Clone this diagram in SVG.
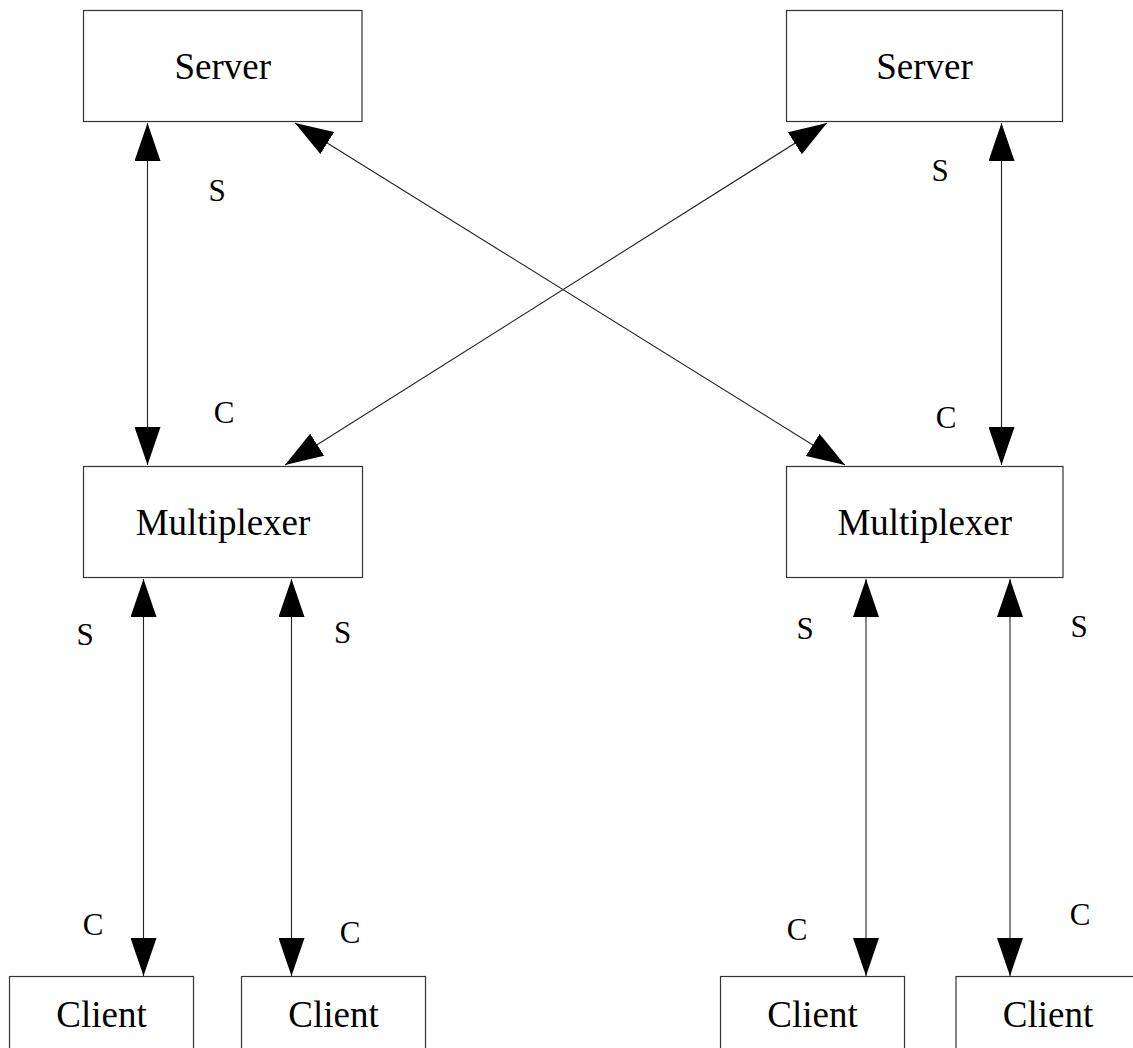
<svg xmlns="http://www.w3.org/2000/svg" width="1133" height="1048" viewBox="0 0 1133 1048">
  <style>
    .box { fill: #ffffff; stroke: #333333; stroke-width: 1.2; }
    .name { font-family: "Liberation Serif", "Times New Roman", serif; font-size: 37px; fill: #000000; text-anchor: middle; }
    .tag { font-family: "Liberation Serif", "Times New Roman", serif; font-size: 31px; fill: #000000; text-anchor: middle; }
    .link { stroke: #222222; stroke-width: 1.1; fill: none; marker-start: url(#head); marker-end: url(#head); }
  </style>
  <defs>
    <marker id="head" viewBox="0 0 38 26" refX="38" refY="13" markerWidth="38" markerHeight="26" markerUnits="userSpaceOnUse" orient="auto-start-reverse">
      <path d="M0,0 L38,13 L0,26 Z" fill="#000000"/>
    </marker>
  </defs>

  <rect width="1133" height="1048" fill="#ffffff"/>

  <!-- connectors: double-headed links -->
  <g id="connectors">
    <line class="link" x1="147.5" y1="123" x2="147.5" y2="465"/>
    <line class="link" x1="1001.5" y1="123" x2="1001.5" y2="465"/>
    <line class="link" x1="295" y1="123" x2="845" y2="465"/>
    <line class="link" x1="827" y1="123" x2="285" y2="465"/>
    <line class="link" x1="143.5" y1="579" x2="143.5" y2="976"/>
    <line class="link" x1="291.5" y1="579" x2="291.5" y2="976"/>
    <line class="link" x1="866" y1="579" x2="866" y2="976"/>
    <line class="link" x1="1010" y1="579" x2="1010" y2="976"/>
  </g>

  <!-- endpoint labels -->
  <g id="labels">
    <text class="tag" x="217" y="201">S</text>
    <text class="tag" x="224" y="423">C</text>
    <text class="tag" x="940" y="181">S</text>
    <text class="tag" x="946" y="428">C</text>
    <text class="tag" x="85" y="645">S</text>
    <text class="tag" x="342.5" y="643">S</text>
    <text class="tag" x="805" y="639">S</text>
    <text class="tag" x="1079" y="637">S</text>
    <text class="tag" x="93" y="935">C</text>
    <text class="tag" x="350" y="943">C</text>
    <text class="tag" x="797" y="940">C</text>
    <text class="tag" x="1080" y="925">C</text>
  </g>

  <g id="server-left">
    <rect class="box" x="83.5" y="10.5" width="278.5" height="111"/>
    <text class="name" x="222.75" y="79">Server</text>
  </g>
  <g id="server-right">
    <rect class="box" x="786.5" y="10.5" width="276" height="111"/>
    <text class="name" x="924.5" y="79">Server</text>
  </g>
  <g id="mux-left">
    <rect class="box" x="83.5" y="466.5" width="279" height="111"/>
    <text class="name" x="223" y="535">Multiplexer</text>
  </g>
  <g id="mux-right">
    <rect class="box" x="786.5" y="466.5" width="276.5" height="111"/>
    <text class="name" x="924.75" y="535">Multiplexer</text>
  </g>
  <g id="client-1">
    <rect class="box" x="9.5" y="976.5" width="184" height="100"/>
    <text class="name" x="101.5" y="1027">Client</text>
  </g>
  <g id="client-2">
    <rect class="box" x="241.5" y="976.5" width="184" height="100"/>
    <text class="name" x="333.5" y="1027">Client</text>
  </g>
  <g id="client-3">
    <rect class="box" x="720.5" y="976.5" width="184" height="100"/>
    <text class="name" x="812.5" y="1027">Client</text>
  </g>
  <g id="client-4">
    <rect class="box" x="956" y="976.5" width="184" height="100"/>
    <text class="name" x="1048" y="1027">Client</text>
  </g>
</svg>
